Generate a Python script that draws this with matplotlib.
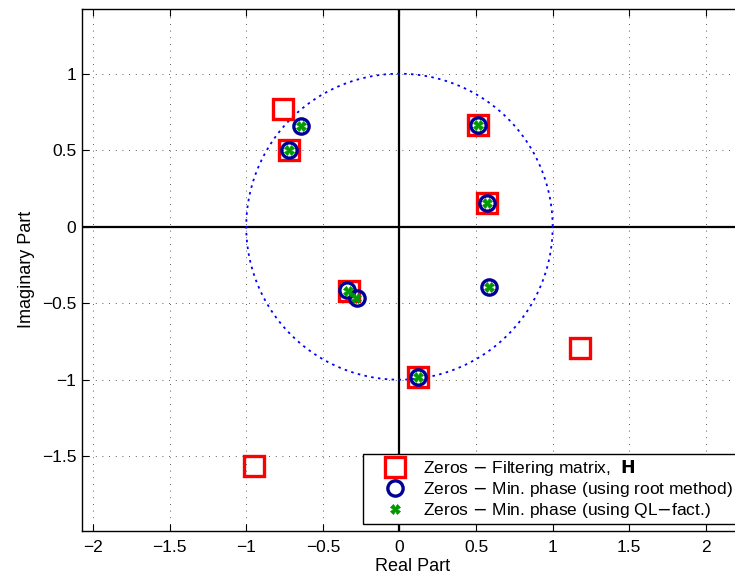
import numpy as np
import matplotlib.pyplot as plt

plt.rcParams['font.family'] = ['Liberation Sans', 'DejaVu Sans']

# zeros of the filtering matrix H
h_re = [-0.762, -0.721, 0.514, 0.569, -0.332, 0.121, 1.178, -0.950]
h_im = [0.769, 0.503, 0.665, 0.153, -0.418, -0.984, -0.795, -1.564]

# zeros of the minimum phase filter, root method
root_re = [-0.643, -0.721, 0.514, 0.569, 0.586, -0.341, -0.279, 0.121]
root_im = [0.658, 0.503, 0.665, 0.153, -0.392, -0.414, -0.468, -0.984]

# zeros of the minimum phase filter, QL factorisation
ql_re = [-0.643, -0.721, 0.514, 0.569, 0.586, -0.336, -0.282, 0.121]
ql_im = [0.658, 0.503, 0.665, 0.153, -0.392, -0.420, -0.466, -0.984]

W, H = 735, 578
fig = plt.figure(figsize=(W / 100, H / 100), dpi=100)
# axes run a little past the right edge of the figure
left, right, top, bottom = 82, 744, 9, 530.7
ax = fig.add_axes([left / W, (H - bottom) / H, (right - left) / W, (bottom - top) / H])

ax.set_xlim(-2.072, 2.249)
ax.set_ylim(-1.987, 1.423)

# unit circle
t = np.linspace(0, 2 * np.pi, 400)
ax.plot(np.cos(t), np.sin(t), color='blue', lw=1.3, ls=(0, (1.4, 2.4)), zorder=2)

# real / imaginary axes
ax.axhline(0, color='black', lw=1.6, zorder=1.5)
ax.axvline(0, color='black', lw=1.6, zorder=1.5)

ax.plot(h_re, h_im, 's', ms=14, mfc='none', mec='red', mew=2.4, zorder=3,
        label=r'Zeros $-$ Filtering matrix,  $\mathbf{H}$')
ax.plot(root_re, root_im, 'o', ms=11, mfc='none', mec=(0, 0, 0.6), mew=2.4, zorder=4,
        label=r'Zeros $-$ Min. phase (using root method)')
ax.plot(ql_re, ql_im, 'X', ms=6.5, color=(0, 0.6, 0), mec=(0, 0.6, 0), mew=0.5, zorder=5,
        label=r'Zeros $-$ Min. phase (using QL$-$fact.)')

ax.set_xticks(np.arange(-2, 2.01, 0.5))
ax.set_yticks(np.arange(-1.5, 1.01, 0.5))
ax.set_xticklabels(['\u22122', '\u22121.5', '\u22121', '\u22120.5', '0', '0.5', '1', '1.5', '2'])
ax.set_yticklabels(['\u22121.5', '\u22121', '\u22120.5', '0', '0.5', '1'])
ax.tick_params(direction='in', length=5, width=0.8, labelsize=12.5, top=True, right=True)
ax.tick_params(axis='x', pad=7)
ax.tick_params(axis='y', pad=4)
ax.grid(True, color='black', lw=0.6, ls=(0, (1, 7)), alpha=0.85)
for s in ax.spines.values():
    s.set_linewidth(1.0)

ax.set_xlabel('Real Part', fontsize=13, labelpad=2)
ax.set_ylabel('Imaginary Part', fontsize=13, labelpad=5)

leg = ax.legend(loc='upper left', bbox_to_anchor=(363.3 / W, (H - 454) / H),
                bbox_transform=fig.transFigure, borderaxespad=0, fontsize=12.5,
                fancybox=False, framealpha=1, edgecolor='black',
                handlelength=3.1, handletextpad=0.08, labelspacing=0.1,
                borderpad=0.25, numpoints=1)
leg.get_frame().set_linewidth(1.0)
leg.set_zorder(10)

fig.savefig('out.png', dpi=100)
